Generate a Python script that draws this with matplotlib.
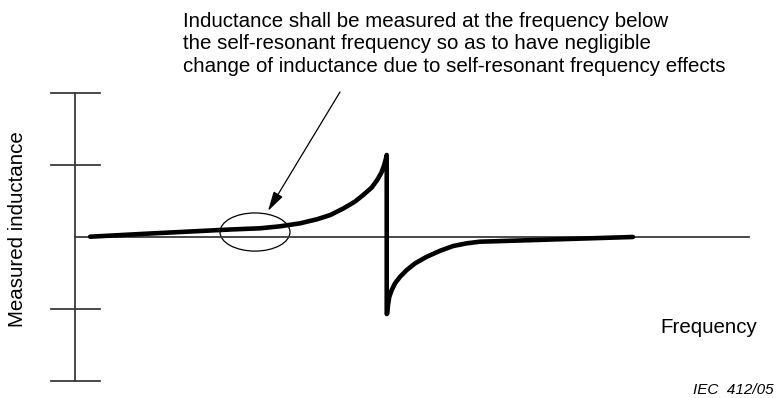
import matplotlib
matplotlib.use("Agg")
import matplotlib.pyplot as plt
from matplotlib.patches import Ellipse

plt.rcParams['font.family'] = ['Liberation Sans', 'DejaVu Sans']

# frequency (arbitrary units) and measured inductance (arbitrary units)
freq_low = [0.21, 1.06, 1.78, 2.21, 2.64, 2.92, 3.21, 3.45, 3.64, 3.83, 3.99,
            4.11, 4.23, 4.31, 4.37, 4.41, 4.436, 4.446]
ind_low = [0.0, 0.044, 0.079, 0.10, 0.117, 0.144, 0.186, 0.242, 0.301, 0.394,
           0.486, 0.579, 0.681, 0.788, 0.889, 0.996, 1.089, 1.135]
freq_high = [4.446, 4.454, 4.464, 4.483, 4.517, 4.564, 4.636, 4.731, 4.85,
             5.017, 5.207, 5.397, 5.589, 5.779, 5.969, 7.964]
ind_high = [-1.074, -1.064, -0.949, -0.835, -0.742, -0.649, -0.557, -0.464,
            -0.371, -0.279, -0.196, -0.129, -0.092, -0.069, -0.064, -0.004]
tick_vals = [-2, -1, 1, 2]
freq_end = 9.62

note = ("Inductance shall be measured at the frequency below\n"
        "the self-resonant frequency so as to have negligible\n"
        "change of inductance due to self-resonant frequency effects")

W, H = 783, 398
fig = plt.figure(figsize=(W / 100, H / 100), dpi=100)
ax = fig.add_axes([0, 0, 1, 1])
ax.set_xlim(-75.5 / 70, (W - 75.5) / 70)
ax.set_ylim((236.7 - H) / 72, 236.7 / 72)
ax.axis('off')

axis_col = '#3a3a3a'
# hand-drawn axes
ax.plot([0, 0], [-2, 2], color=axis_col, lw=1.3)
ax.plot([0, freq_end], [0, 0], color=axis_col, lw=1.3)
for t in tick_vals:
    ax.plot([-0.35, 0.35], [t, t], color=axis_col, lw=1.3)

# inductance curve with the jump at self-resonance
ax.plot(freq_low + freq_high, ind_low + ind_high, color='black', lw=3.3,
        solid_capstyle='round', solid_joinstyle='round')

ax.add_patch(Ellipse((2.564, 0.065), 1.0, 0.53, fill=False, ec='black', lw=0.9))

ax.annotate('', xy=((268 - 75.5) / 70, (236.7 - 211) / 72),
            xytext=((340 - 75.5) / 70, (236.7 - 92) / 72),
            arrowprops=dict(arrowstyle='-|>,head_length=1.2,head_width=0.32',
                            color='black', lw=0.9, shrinkA=0, shrinkB=0))

fig.text(183 / W, 1 - 12 / H, note, fontsize=14.8, va='top', ha='left',
         linespacing=1.22)
fig.text(18 / W, 1 - 229 / H, 'Measured inductance', fontsize=14.8,
         rotation=90, va='center', ha='center')
fig.text(660 / W, 1 - 333 / H, 'Frequency', fontsize=14.8, va='baseline', ha='left')
fig.text(693 / W, 1 - 394 / H, 'IEC  412/05', fontsize=11, style='italic',
         va='baseline', ha='left')

fig.savefig('out.png', dpi=100)
